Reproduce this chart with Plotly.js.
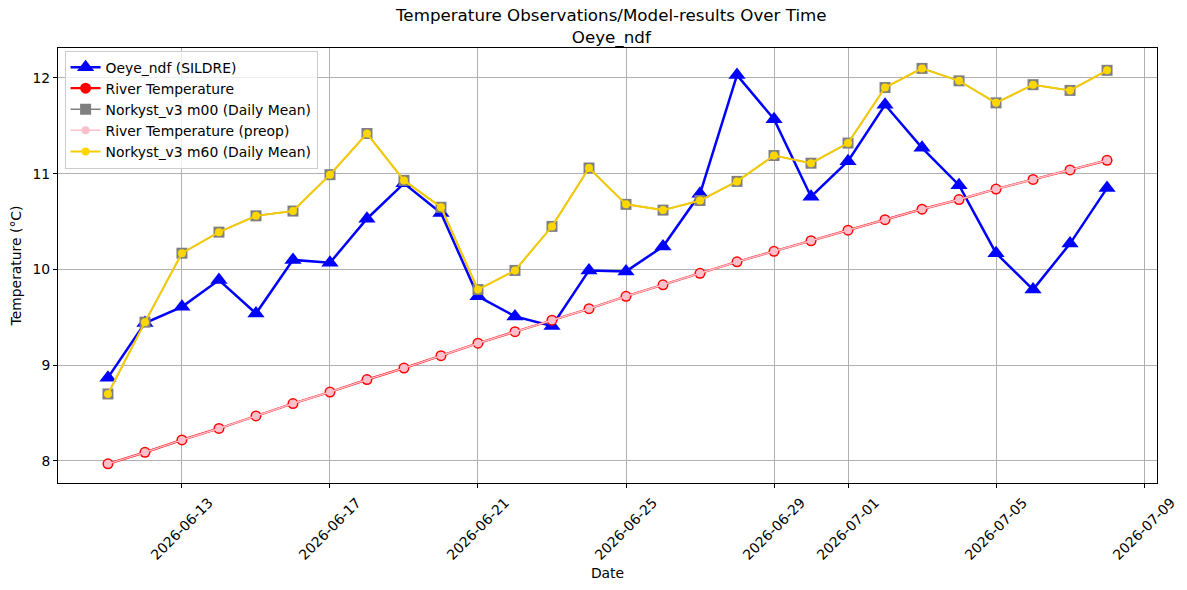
<!DOCTYPE html>
<html>
<head>
<meta charset="utf-8">
<script src="https://cdn.plot.ly/plotly-3.0.1.min.js"></script>
<style>html,body{margin:0;padding:0;background:#fff;}#chart{width:1187px;height:590px;}</style>
</head>
<body>
<div id="chart"></div>
<script>
const dates = ["2026-06-11","2026-06-12","2026-06-13","2026-06-14","2026-06-15","2026-06-16","2026-06-17","2026-06-18","2026-06-19","2026-06-20","2026-06-21","2026-06-22","2026-06-23","2026-06-24","2026-06-25","2026-06-26","2026-06-27","2026-06-28","2026-06-29","2026-06-30","2026-07-01","2026-07-02","2026-07-03","2026-07-04","2026-07-05","2026-07-06","2026-07-07","2026-07-08"];
const oeyeSildre = [8.87,9.44,9.61,9.89,9.54,10.10,10.07,10.53,10.90,10.59,9.72,9.51,9.41,9.99,9.98,10.24,10.79,12.03,11.57,10.76,11.13,11.72,11.27,10.88,10.17,9.79,10.27,10.85];
const riverTemp = [7.97,8.09,8.22,8.34,8.47,8.60,8.72,8.85,8.97,9.10,9.23,9.35,9.47,9.59,9.72,9.84,9.96,10.08,10.19,10.30,10.41,10.52,10.63,10.73,10.84,10.94,11.04,11.14];
const riverTempPreop = [7.97,8.09,8.22,8.34,8.47,8.60,8.72,8.85,8.97,9.10,9.23,9.35,9.47,9.59,9.72,9.84,9.96,10.08,10.19,10.30,10.41,10.52,10.63,10.73,10.84,10.94,11.04,11.14];
const norkystM00 = [8.70,9.45,10.17,10.39,10.56,10.61,10.99,11.42,10.93,10.65,9.79,9.99,10.45,11.06,10.68,10.62,10.72,10.92,11.19,11.11,11.32,11.90,12.10,11.97,11.74,11.93,11.87,12.08];
const norkystM60 = [8.70,9.45,10.17,10.39,10.56,10.61,10.99,11.42,10.93,10.65,9.79,9.99,10.45,11.06,10.68,10.62,10.72,10.92,11.19,11.11,11.32,11.90,12.10,11.97,11.74,11.93,11.87,12.08];
const xTickVals = ["2026-06-13","2026-06-17","2026-06-21","2026-06-25","2026-06-29","2026-07-01","2026-07-05","2026-07-09"];
const yTickVals = [8,9,10,11,12];

const traces = [
  {x: dates, y: oeyeSildre, name: "Oeye_ndf (SILDRE)", mode: "lines+markers",
   line: {color: "blue", width: 2.5}, marker: {symbol: "triangle-up", size: 15, color: "blue"}},
  {x: dates, y: riverTemp, name: "River Temperature", mode: "lines+markers",
   line: {color: "red", width: 2.2}, marker: {symbol: "circle", size: 11, color: "red"}},
  {x: dates, y: norkystM00, name: "Norkyst_v3 m00 (Daily Mean)", mode: "lines+markers",
   line: {color: "grey", width: 1.5}, marker: {symbol: "square", size: 11, color: "grey"}},
  {x: dates, y: riverTempPreop, name: "River Temperature (preop)", mode: "lines+markers",
   line: {color: "pink", width: 1.5}, marker: {symbol: "circle", size: 8, color: "pink"}},
  {x: dates, y: norkystM60, name: "Norkyst_v3 m60 (Daily Mean)", mode: "lines+markers",
   line: {color: "#f5cc00", width: 2}, marker: {symbol: "circle", size: 8, color: "gold"}}
];

const font = "DejaVu Sans, sans-serif";
const layout = {
  width: 1187, height: 590,
  margin: {l: 58, r: 30, t: 48, b: 107},
  paper_bgcolor: "white", plot_bgcolor: "white",
  font: {family: font, size: 13.9, color: "black"},
  title: {text: "Temperature Observations/Model-results Over Time<br>Oeye_ndf", x: 0.515, xanchor: "center", y: 0.964, yanchor: "middle", font: {family: font, size: 16.7, color: "black"}},
  showlegend: true,
  legend: {x: 0.006, y: 0.994, xanchor: "left", yanchor: "top", bgcolor: "rgba(255,255,255,0.8)", bordercolor: "#cccccc", borderwidth: 1, font: {family: font, size: 13.9}, tracegroupgap: 0},
  xaxis: {
    type: "date", range: ["2026-06-09 15:36", "2026-07-09 08:24"],
    tickmode: "array", tickvals: xTickVals, ticktext: xTickVals, tickangle: -45,
    ticklabelshift: 27, ticklabelstandoff: 1,
    showgrid: true, gridcolor: "#b0b0b0", gridwidth: 1,
    showline: true, linecolor: "black", linewidth: 1, mirror: true,
    ticks: "outside", ticklen: 4, tickcolor: "black", zeroline: false,
    tickfont: {family: font, size: 13.9},
    title: {text: "Date", font: {family: font, size: 13.9}, standoff: 6}
  },
  yaxis: {
    range: [7.77, 12.313], tickmode: "array", tickvals: yTickVals, ticktext: yTickVals.map(String),
    showgrid: true, gridcolor: "#b0b0b0", gridwidth: 1,
    showline: true, linecolor: "black", linewidth: 1, mirror: true,
    ticks: "outside", ticklen: 4, tickcolor: "black", zeroline: false,
    tickfont: {family: font, size: 13.9},
    title: {text: "Temperature (°C)", font: {family: font, size: 13.9}, standoff: 7}
  }
};
Plotly.newPlot("chart", traces, layout, {displayModeBar: false, staticPlot: true});
</script>
</body>
</html>
